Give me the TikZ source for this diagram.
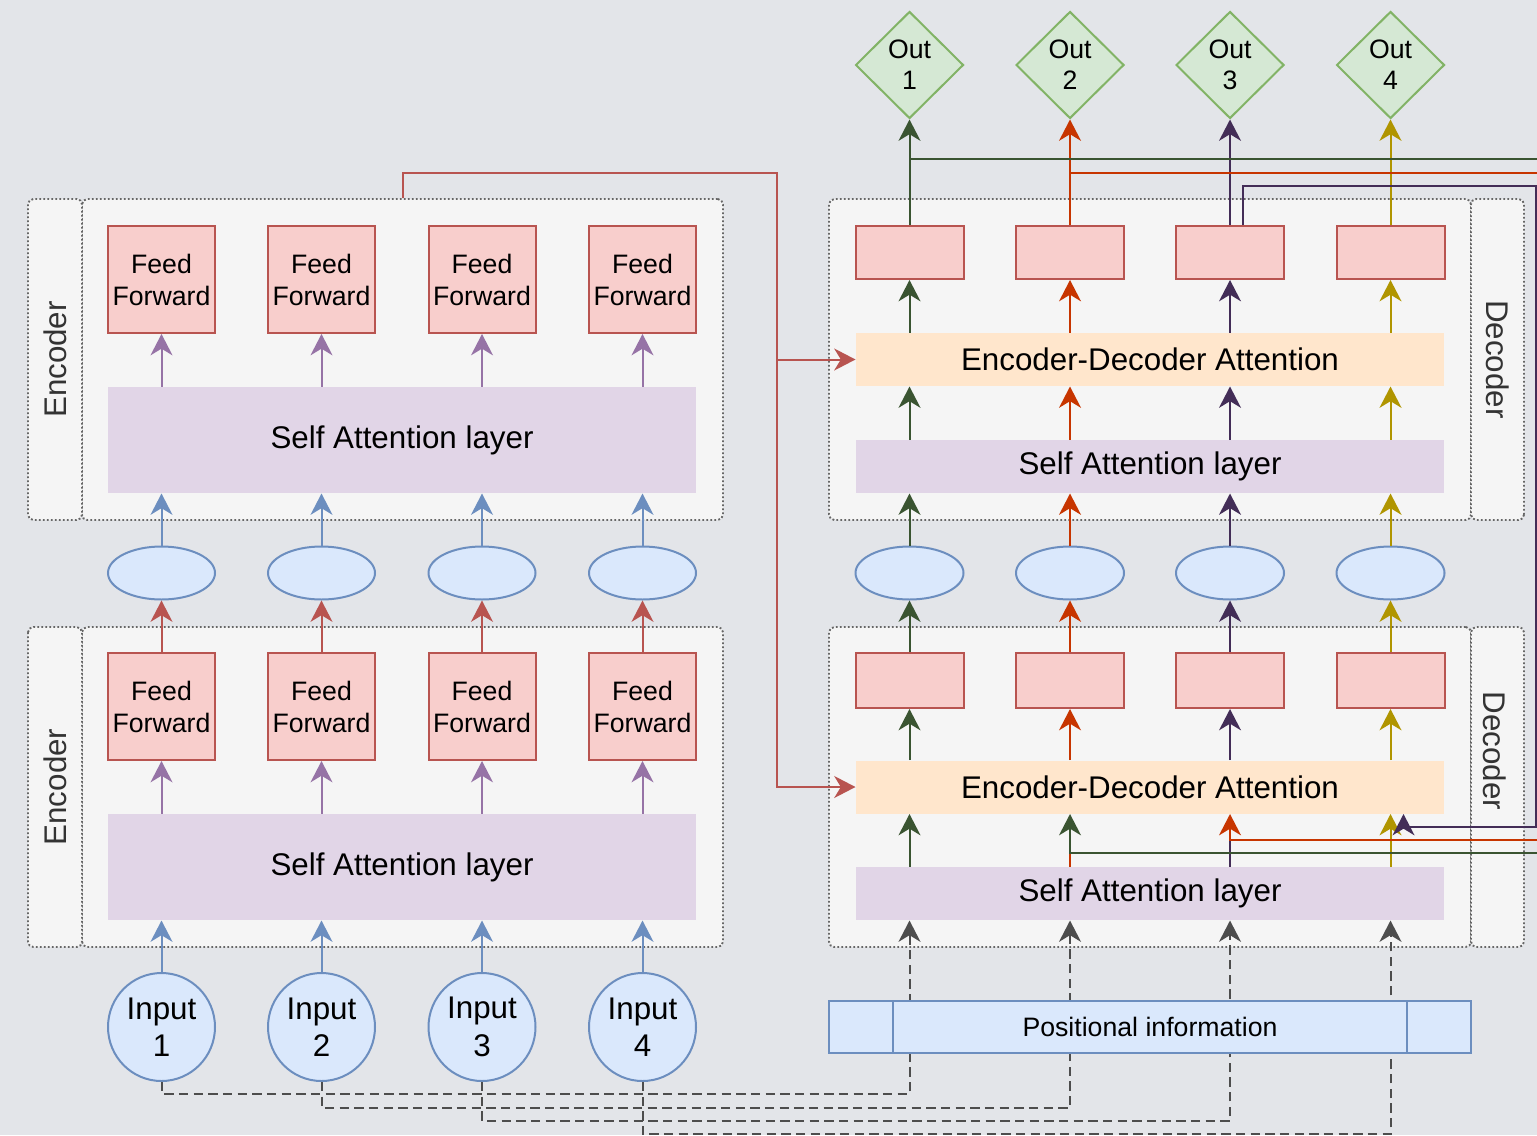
\documentclass[tikz,border=0pt]{standalone}
\usepackage{fontspec}
\setmainfont{Liberation Sans}
\usetikzlibrary{shapes.geometric,arrows.meta,calc}

\definecolor{bgGrey}{HTML}{E3E5E9}
\definecolor{grpFill}{HTML}{F5F5F5}
\definecolor{grpLine}{HTML}{666666}
\definecolor{labText}{HTML}{333333}
\definecolor{ffFill}{HTML}{F8CECC}
\definecolor{ffLine}{HTML}{B85450}
\definecolor{saFill}{HTML}{E1D5E7}
\definecolor{saLine}{HTML}{9673A6}
\definecolor{edFill}{HTML}{FFE6CC}
\definecolor{emFill}{HTML}{DAE8FC}
\definecolor{emLine}{HTML}{6C8EBF}
\definecolor{outFill}{HTML}{D5E8D4}
\definecolor{outLine}{HTML}{82B366}
\definecolor{colA}{HTML}{3A5431}
\definecolor{colB}{HTML}{C73500}
\definecolor{colC}{HTML}{432D57}
\definecolor{colD}{HTML}{B09500}
\definecolor{posGrey}{HTML}{4D4D4D}

\newcommand{\fntBig}{\fontsize{23.5}{28}\selectfont}
\newcommand{\fntMid}{\fontsize{20}{24}\selectfont}

\tikzset{every picture/.style={line width=0.75pt}}
\tikzset{
  grpbox/.style={draw=grpLine, fill=grpFill, line width=1.4pt, dash pattern=on 1.4pt off 1.6pt, rounded corners=4pt, inner sep=0pt},
  grplabel/.style={text=labText, font=\fntBig},
  ffbox/.style={draw=ffLine, fill=ffFill, line width=1.5pt, inner sep=0pt, align=center, minimum width=80.25pt, font=\fntMid},
  band/.style={inner sep=0pt, minimum width=441pt, font=\fntBig},
  embed/.style={ellipse, draw=emLine, fill=emFill, line width=1.5pt, inner sep=0pt, minimum width=80.25pt, minimum height=39.75pt},
  inbox/.style={ellipse, draw=emLine, fill=emFill, line width=1.5pt, inner sep=0pt, minimum width=80.25pt, minimum height=81pt, align=center, font=\fntBig},
  outdia/.style={diamond, draw=outLine, fill=outFill, line width=1.5pt, inner sep=0pt, minimum width=81pt, minimum height=80.25pt, align=center, font=\fontsize{20}{23.5}\selectfont},
  headed/.style={-{Stealth[length=16pt,width=16.5pt,inset=5pt]}},
  flow/.style={line width=1.5pt, headed},
  wire/.style={line width=1.5pt},
  posflow/.style={draw=posGrey, line width=1.5pt, dash pattern=on 7pt off 4pt, headed},
}

\begin{document}
\begin{tikzpicture}[x=0.75pt,y=0.75pt,yscale=-1,xscale=1]
\useasboundingbox (0,0) rectangle (1537,1135);
\fill[bgGrey] (0,0) rectangle (1537,1135);
\clip (0,0) rectangle (1537,1135);

%Group boxes
\node[grpbox, minimum width=480.75pt, minimum height=240.75pt] (egrp2) at (402.5,359.5) {};
\node[grpbox, grplabel, rotate=90, minimum width=240.75pt, minimum height=40.5pt] (elab2) at (55,359.5) {Encoder};
\node[grpbox, minimum width=480.75pt, minimum height=240pt] (egrp1) at (402.5,787) {};
\node[grpbox, grplabel, rotate=90, minimum width=240pt, minimum height=40.5pt] (elab1) at (55,787) {Encoder};
\node[grpbox, minimum width=481.5pt, minimum height=240.75pt] (dgrp2) at (1150,359.5) {};
\node[grpbox, grplabel, rotate=-90, minimum width=240.75pt, minimum height=39.75pt] (dlab2) at (1497.5,359.5) {Decoder};
\node[grpbox, minimum width=481.5pt, minimum height=240pt] (dgrp1) at (1150,787) {};
\node[grpbox, minimum width=39.75pt, minimum height=240pt] (dlab1) at (1497.5,787) {};
\node[grplabel, rotate=-90, inner sep=0pt] (dlabtxt1) at (1495,751) {Decoder};

%Encoder, upper block
\node[ffbox, minimum height=80.25pt] (eff21) at (161.5,279.5) {Feed\\Forward};
\node[ffbox, minimum height=80.25pt] (eff22) at (321.5,279.5) {Feed\\Forward};
\node[ffbox, minimum height=80.25pt] (eff23) at (482,279.5) {Feed\\Forward};
\node[ffbox, minimum height=80.25pt] (eff24) at (642.5,279.5) {Feed\\Forward};
\node[band, fill=saFill, minimum height=79.5pt] (esa2) at (402,440) {Self Attention layer};

%Encoder, lower block
\node[ffbox, minimum height=80.25pt] (eff11) at (161.5,706.5) {Feed\\Forward};
\node[ffbox, minimum height=80.25pt] (eff12) at (321.5,706.5) {Feed\\Forward};
\node[ffbox, minimum height=80.25pt] (eff13) at (482,706.5) {Feed\\Forward};
\node[ffbox, minimum height=80.25pt] (eff14) at (642.5,706.5) {Feed\\Forward};
\node[band, fill=saFill, minimum height=79.5pt] (esa1) at (402,867) {Self Attention layer};

%Encoder embeddings and inputs
\node[embed] (eem1) at (161.5,573) {};
\node[embed] (eem2) at (321.5,573) {};
\node[embed] (eem3) at (482,573) {};
\node[embed] (eem4) at (642.5,573) {};
\node[inbox] (ein1) at (161.5,1027) {Input\\1};
\node[inbox] (ein2) at (321.5,1027) {Input\\2};
\node[inbox] (ein3) at (482,1027) {Input\\3};
\node[inbox] (ein4) at (642.5,1027) {Input\\4};

%Outputs
\node[outdia] (out1) at (909.5,65) {Out\\1};
\node[outdia] (out2) at (1070,65) {Out\\2};
\node[outdia] (out3) at (1230,65) {Out\\3};
\node[outdia] (out4) at (1390.5,65) {Out\\4};

%Decoder, upper block
\node[ffbox, minimum width=81pt, minimum height=39.75pt] (dff21) at (909.5,252.5) {};
\node[ffbox, minimum width=81pt, minimum height=39.75pt] (dff22) at (1070,252.5) {};
\node[ffbox, minimum width=81pt, minimum height=39.75pt] (dff23) at (1230,252.5) {};
\node[ffbox, minimum width=81pt, minimum height=39.75pt] (dff24) at (1390.5,252.5) {};
\node[band, fill=edFill, minimum height=39.75pt] (ded2) at (1150,359.5) {Encoder-Decoder Attention};
\node[band, fill=saFill, minimum height=39.75pt] (dsa2) at (1150,466.5) {Self Attention layer};

%Decoder embeddings
\node[embed, minimum width=81pt] (dem1) at (909.5,573) {};
\node[embed, minimum width=81pt] (dem2) at (1070,573) {};
\node[embed, minimum width=81pt] (dem3) at (1230,573) {};
\node[embed, minimum width=81pt] (dem4) at (1390.5,573) {};

%Decoder, lower block
\node[ffbox, minimum width=81pt, minimum height=41.25pt] (dff11) at (909.5,680.5) {};
\node[ffbox, minimum width=81pt, minimum height=41.25pt] (dff12) at (1070,680.5) {};
\node[ffbox, minimum width=81pt, minimum height=41.25pt] (dff13) at (1230,680.5) {};
\node[ffbox, minimum width=81pt, minimum height=41.25pt] (dff14) at (1390.5,680.5) {};
\node[band, fill=edFill, minimum height=39.75pt] (ded1) at (1150,787) {Encoder-Decoder Attention};
\node[band, fill=saFill, minimum height=39.75pt] (dsa1) at (1150,893.5) {Self Attention layer};

%Encoder arrows
\draw[flow, emLine] (ein1) -- (esa1.south -| ein1);
\draw[flow, emLine] (ein2) -- (esa1.south -| ein2);
\draw[flow, emLine] (ein3) -- (esa1.south -| ein3);
\draw[flow, emLine] (ein4) -- (esa1.south -| ein4);
\draw[flow, saLine] (esa1.north -| eff11) -- (eff11);
\draw[flow, saLine] (esa1.north -| eff12) -- (eff12);
\draw[flow, saLine] (esa1.north -| eff13) -- (eff13);
\draw[flow, saLine] (esa1.north -| eff14) -- (eff14);
\draw[flow, ffLine] (eff11) -- (eem1);
\draw[flow, ffLine] (eff12) -- (eem2);
\draw[flow, ffLine] (eff13) -- (eem3);
\draw[flow, ffLine] (eff14) -- (eem4);
\draw[flow, emLine] (eem1) -- (esa2.south -| eem1);
\draw[flow, emLine] (eem2) -- (esa2.south -| eem2);
\draw[flow, emLine] (eem3) -- (esa2.south -| eem3);
\draw[flow, emLine] (eem4) -- (esa2.south -| eem4);
\draw[flow, saLine] (esa2.north -| eff21) -- (eff21);
\draw[flow, saLine] (esa2.north -| eff22) -- (eff22);
\draw[flow, saLine] (esa2.north -| eff23) -- (eff23);
\draw[flow, saLine] (esa2.north -| eff24) -- (eff24);

%Encoder output to both decoders
\coordinate (rbus) at (776.5,173);
\draw[flow, ffLine] (egrp2.north) |- (rbus) |- (ded1.west);
\draw[flow, ffLine] (rbus |- ded2.west) -- (ded2.west);

%Positional information (dashed)
\draw[posflow] (ein1.south) -- ++(0,12) -| (dsa1.south -| dff11);
\draw[posflow] (ein2.south) -- ++(0,26) -| (dsa1.south -| dff12);
\draw[posflow] (ein3.south) -- ++(0,39) -| (dsa1.south -| dff13);
\draw[posflow] (ein4.south) -- ++(0,52) -| (dsa1.south -| dff14);
\node[draw=emLine, fill=emFill, line width=1.5pt, inner sep=0pt, minimum width=481pt, minimum height=39pt, font=\fntMid] (pos) at (1150,1027) {Positional information};
\draw[wire, emLine] ([xshift=48.4pt]pos.north west) -- ([xshift=48.4pt]pos.south west);
\draw[wire, emLine] ([xshift=-48.4pt]pos.north east) -- ([xshift=-48.4pt]pos.south east);

%Decoder, lower block arrows
\draw[flow, colA] (dsa1.north -| dff11) -- (ded1.south -| dff11);
\draw[wire, colB] (dsa1.north -| dff12) -- ++(0,-14);
\draw[wire, colC] (dsa1.north -| dff13) -- ++(0,-27);
\draw[flow, colD] (dsa1.north -| dff14) -- (ded1.south -| dff14);
\draw[flow, colA] (ded1.north -| dff11) -- (dff11);
\draw[flow, colB] (ded1.north -| dff12) -- (dff12);
\draw[flow, colC] (ded1.north -| dff13) -- (dff13);
\draw[flow, colD] (ded1.north -| dff14) -- (dff14);
\draw[flow, colA] (dff11) -- (dem1);
\draw[flow, colB] (dff12) -- (dem2);
\draw[flow, colC] (dff13) -- (dem3);
\draw[flow, colD] (dff14) -- (dem4);

%Decoder, upper block arrows
\draw[flow, colA] (dem1) -- (dsa2.south -| dem1);
\draw[flow, colB] (dem2) -- (dsa2.south -| dem2);
\draw[flow, colC] (dem3) -- (dsa2.south -| dem3);
\draw[flow, colD] (dem4) -- (dsa2.south -| dem4);
\draw[flow, colA] (dsa2.north -| dff21) -- (ded2.south -| dff21);
\draw[flow, colB] (dsa2.north -| dff22) -- (ded2.south -| dff22);
\draw[flow, colC] (dsa2.north -| dff23) -- (ded2.south -| dff23);
\draw[flow, colD] (dsa2.north -| dff24) -- (ded2.south -| dff24);
\draw[flow, colA] (ded2.north -| dff21) -- (dff21);
\draw[flow, colB] (ded2.north -| dff22) -- (dff22);
\draw[flow, colC] (ded2.north -| dff23) -- (dff23);
\draw[flow, colD] (ded2.north -| dff24) -- (dff24);
\draw[flow, colA] (dff21) -- (out1);
\draw[flow, colB] (dff22) -- (out2);
\draw[flow, colC] (dff23) -- (out3);
\draw[flow, colD] (dff24) -- (out4);

%Outputs fed back to the lower decoder
\coordinate (gback) at (1545,159);
\coordinate (rback) at (1545,173);
\coordinate (vback) at (1535.5,186);
\draw[flow, colA] (dff21.north |- gback) -- (gback) -- (1545,853) -| (ded1.south -| dff12);
\draw[flow, colB] (dff22.north |- rback) -- (rback) -- (1545,840) -| (ded1.south -| dff13);
\draw[flow, colC] ($(dff23.north)+(13,0)$) |- (vback) -- (1535.5,827) -| ($(ded1.south -| dff14)+(13,0)$);

\end{tikzpicture}
\end{document}
